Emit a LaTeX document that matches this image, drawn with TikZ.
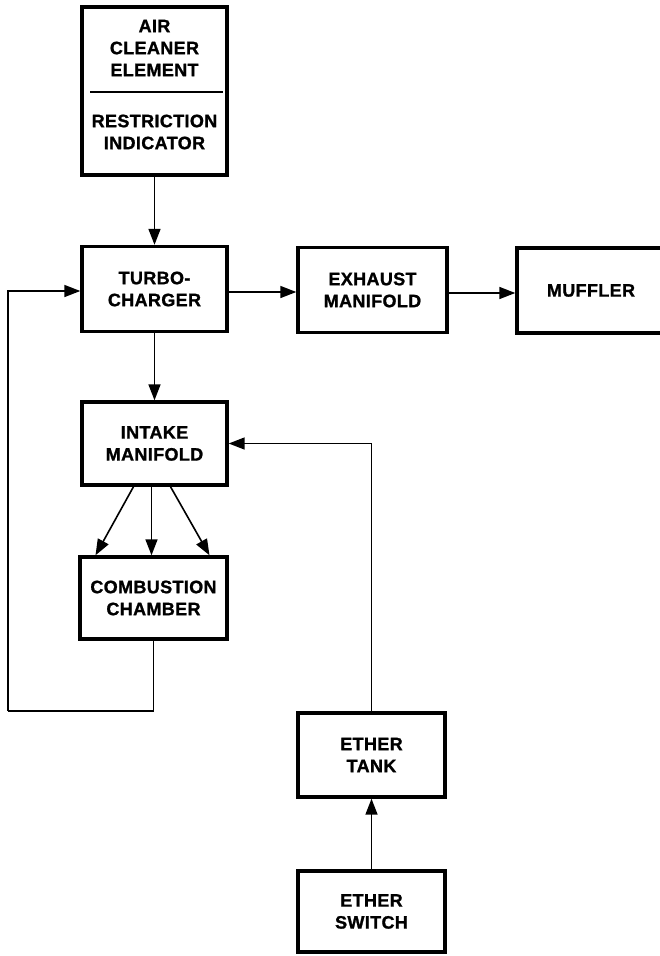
\documentclass[tikz,border=0pt]{standalone}
\usepackage{fontspec}
\setmainfont{Liberation Sans}[LetterSpace=2, BoldFeatures={FakeBold=1.2}]
\usetikzlibrary{positioning, arrows.meta}

\begin{document}
\begin{tikzpicture}[x=1pt, y=-1pt, semithick]
		\tikzset{
		    part/.style= {rectangle, draw, line width=3.4pt, minimum width=145pt, minimum height=85pt, inner sep=0pt, align=center, font=\bfseries\fontsize{18}{22}\selectfont},
		    label/.style= {align=center, font=\bfseries\fontsize{18}{22}\selectfont},
		    flow/.style= {line width=1.6pt, -{Triangle[length=16pt, width=12pt]}},
		    pipe/.style= {line width=1.6pt},
		}
		\useasboundingbox (0,0) rectangle (659,956);
		
		\node[part, minimum height=168pt] (air) at (154.5, 91) {};
		\node[label] (airtop) at (154.5, 48) {AIR\\CLEANER\\ELEMENT};
		\node[label] (airbot) at (154.5, 132) {RESTRICTION\\INDICATOR};
		\draw[line width=2.6pt] (90, 92) -- (223, 92);
		
		\node[part] (turbo) at (154.5, 289) {TURBO-\\CHARGER};
		\node[part, minimum width=149pt] (exhaust) at (372.5, 290) {EXHAUST\\MANIFOLD};
		\node[part, minimum width=148pt] (muffler) at (591, 290.5) {MUFFLER};
		\node[part, minimum height=83pt] (intake) at (154.5, 443.5) {INTAKE\\MANIFOLD};
		\node[part, minimum width=147pt, minimum height=82pt] (comb) at (153.5, 598) {COMBUSTION\\CHAMBER};
		\node[part, minimum width=147pt, minimum height=84pt] (tank) at (371.5, 755) {ETHER\\TANK};
		\node[part, minimum width=147pt, minimum height=81pt] (switch) at (371.5, 911.5) {ETHER\\SWITCH};
		\coordinate (loop) at (8, 711);
		
		\draw[flow] (air) -- (turbo);
		\draw[flow] ([yshift=-3pt]turbo.east) -- ([yshift=-3pt]turbo.east -| exhaust.west);
		\draw[flow] ([yshift=-3pt]exhaust.east) -- ([yshift=-3pt]exhaust.east -| muffler.west);
		\draw[flow] (turbo) -- (intake);
		\draw[flow] ([xshift=-21pt]intake.south) -- ([xshift=-58pt]comb.north);
		\draw[flow] ([xshift=-3pt]intake.south) -- ([xshift=-2pt]comb.north);
		\draw[flow] ([xshift=16pt]intake.south) -- ([xshift=56pt]comb.north);
		\draw[pipe] (comb.south) |- (loop);
		\draw[flow] (loop) |- ([yshift=-2pt]turbo.west);
		\draw[flow] (tank.north) |- (intake.east);
		\draw[flow] (switch) -- (tank);
	\end{tikzpicture}
\end{document}
